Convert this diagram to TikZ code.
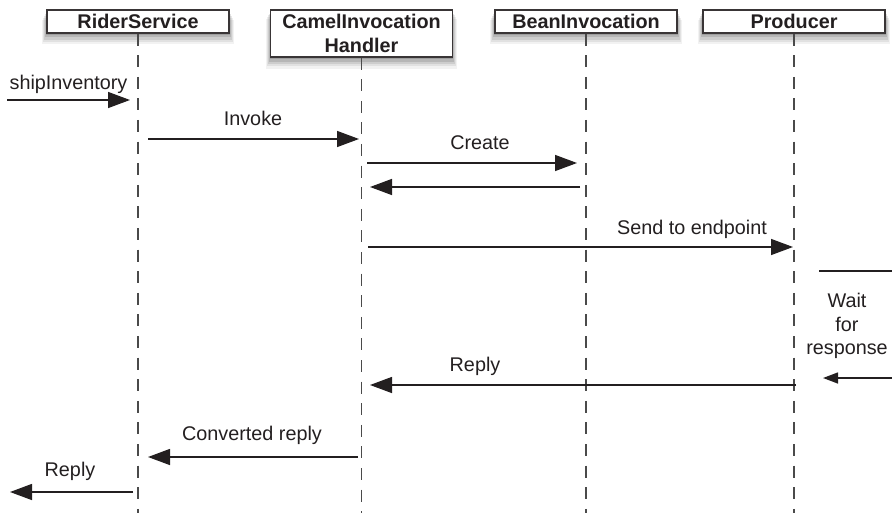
\documentclass[tikz,border=0pt]{standalone}
\usepackage{fontspec}
\setmainfont{Liberation Sans}
\usetikzlibrary{arrows.meta,shadows}
\definecolor{ink}{HTML}{231F20}
\definecolor{lifegray}{HTML}{4A4A4A}
\begin{document}
\begin{tikzpicture}[x=0.5pt,y=-0.5pt,
  font=\fontsize{9.9}{11.8}\selectfont,
  actor/.style={draw=ink!90, line width=0.6pt, fill=white, minimum width=91pt,
     minimum height=11.5pt, inner sep=0pt, align=center,
     font=\fontsize{9.9}{11.8}\selectfont\bfseries, text=ink,
     drop shadow={shadow xshift=0pt,shadow yshift=-5pt,opacity=0.05,fill=black,shadow scale=1.05},
     drop shadow={shadow xshift=0pt,shadow yshift=-4pt,opacity=0.07,fill=black,shadow scale=1.04},
     drop shadow={shadow xshift=0pt,shadow yshift=-3pt,opacity=0.09,fill=black,shadow scale=1.03},
     drop shadow={shadow xshift=0pt,shadow yshift=-2pt,opacity=0.11,fill=black,shadow scale=1.02},
     drop shadow={shadow xshift=0pt,shadow yshift=-1pt,opacity=0.13,fill=black,shadow scale=1.01}},
  lifeline/.style={draw=lifegray, line width=0.65pt, dash pattern=on 6pt off 4.8pt},
  msg/.style={draw=ink, line width=0.7pt, -{Triangle[length=11pt,width=8pt]}},
  smallmsg/.style={draw=ink, line width=0.7pt, -{Triangle[length=7.5pt,width=5.5pt]}},
  plainline/.style={draw=ink, line width=0.7pt},
  lbl/.style={anchor=base, text=ink, inner sep=0pt},
]
\useasboundingbox (0,0) rectangle (892,513);

% actors
\node[actor] (rs) at (138,21.5) {RiderService};
\node[actor, minimum height=23.5pt] (cih) at (361.5,33.5) {CamelInvocation\\Handler};
\node[actor] (bi) at (586,21.5) {BeanInvocation};
\node[actor] (pr) at (794,21.5) {Producer};

% lifelines
\coordinate (rsEnd) at (138,513);
\coordinate (cihEnd) at (361.5,513);
\coordinate (biEnd) at (586,513);
\coordinate (prEnd) at (794,513);
\draw[lifeline] (rs.south) -- (rsEnd);
\draw[lifeline] (cih.south) -- (cihEnd);
\draw[lifeline] (bi.south) -- (biEnd);
\draw[lifeline] (pr.south) -- (prEnd);

% shipInventory
\coordinate (m1s) at (7,100); \coordinate (m1e) at (130,100);
\draw[msg] (m1s) -- (m1e);
\node[lbl] (l1) at (68.5,89.5) {shipInventory};

% Invoke
\coordinate (m2s) at (148,139); \coordinate (m2e) at (359,139);
\draw[msg] (m2s) -- (m2e);
\node[lbl] (l2) at (253,125.5) {Invoke};

% Create
\coordinate (m3s) at (367,163); \coordinate (m3e) at (577,163);
\draw[msg] (m3s) -- (m3e);
\node[lbl] (l3) at (480,150) {Create};

% return from bean
\coordinate (m4s) at (580,187); \coordinate (m4e) at (370,187);
\draw[msg] (m4s) -- (m4e);

% Send to endpoint
\coordinate (m5s) at (368,247); \coordinate (m5e) at (793,247);
\draw[msg] (m5s) -- (m5e);
\node[lbl] (l5) at (692,234) {Send to endpoint};

% wait for response (self loop, cut at right edge)
\coordinate (w1s) at (819,271); \coordinate (w1e) at (892,271);
\draw[plainline] (w1s) -- (w1e);
\node[text=ink, inner sep=0pt, align=center] (lw) at (847,326) {Wait\\for\\response};
\coordinate (w2s) at (892,378); \coordinate (w2e) at (823,378);
\draw[smallmsg] (w2s) -- (w2e);

% Reply
\coordinate (m6s) at (796,385); \coordinate (m6e) at (370,385);
\draw[msg] (m6s) -- (m6e);
\node[lbl] (l6) at (475,371.7) {Reply};

% Converted reply
\coordinate (m7s) at (358,457); \coordinate (m7e) at (148,457);
\draw[msg] (m7s) -- (m7e);
\node[lbl] (l7) at (252,440) {Converted reply};

% final Reply
\coordinate (m8s) at (133,492); \coordinate (m8e) at (10,492);
\draw[msg] (m8s) -- (m8e);
\node[lbl] (l8) at (70,476) {Reply};
\end{tikzpicture}
\end{document}
